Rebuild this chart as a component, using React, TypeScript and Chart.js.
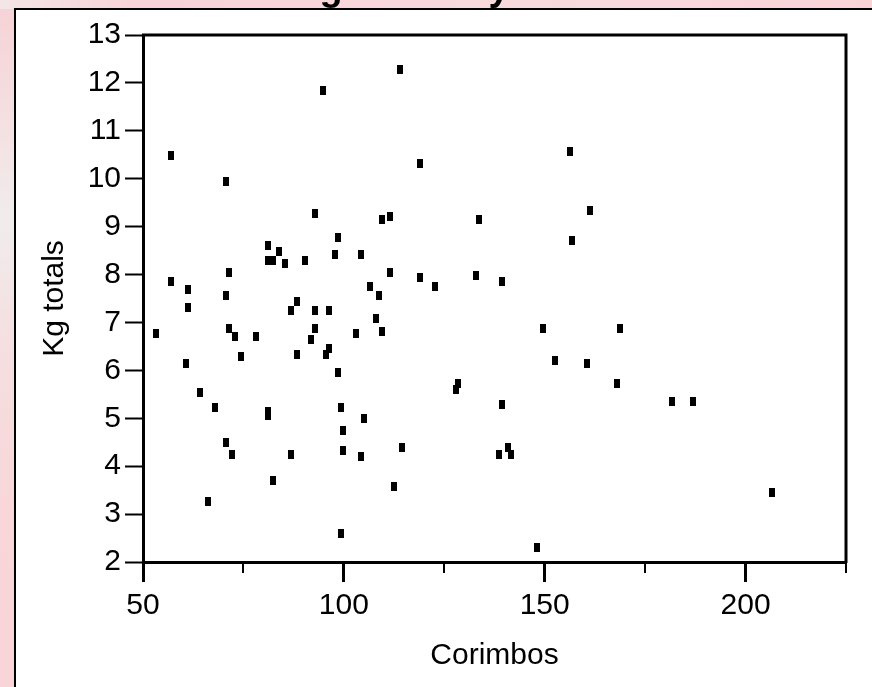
import React, { useEffect, useRef } from "react";
import { Chart, registerables } from "chart.js";

Chart.register(...registerables);

const corimbos: number[] = [
  94.8, 56.9, 70.7, 92.8, 98.5, 81.0, 83.9, 81.0, 82.4, 85.3,
  90.4, 97.8, 104.3, 106.5, 71.5, 56.9, 61.3, 70.7, 61.3, 88.4,
  86.8, 92.8, 96.3, 53.3, 71.5, 73.0, 78.1, 92.8, 91.9, 102.9,
  60.6, 74.4, 88.4, 96.3, 95.5, 98.5, 64.2, 67.9, 81.0, 81.0,
  99.2, 105.1, 99.9, 70.7, 72.2, 86.8, 99.9, 104.3, 82.4, 66.3,
  99.2, 113.9, 156.2, 119.0, 161.3, 109.5, 111.6, 133.6, 156.9, 111.6,
  119.0, 132.8, 139.4, 122.7, 108.7, 108.0, 109.5, 149.6, 152.6, 160.5,
  128.5, 127.8, 139.4, 114.5, 140.9, 138.7, 141.7, 112.4, 148.2, 168.7,
  167.9, 181.7, 186.9, 206.7,
];

const kgTotals: number[] = [
  11.84, 10.49, 9.94, 9.28, 8.78, 8.6, 8.48, 8.3, 8.3, 8.23,
  8.3, 8.41, 8.41, 7.75, 8.05, 7.86, 7.68, 7.56, 7.31, 7.43,
  7.25, 7.25, 7.25, 6.76, 6.88, 6.7, 6.7, 6.88, 6.64, 6.76,
  6.15, 6.28, 6.33, 6.46, 6.33, 5.96, 5.54, 5.23, 5.15, 5.05,
  5.23, 4.99, 4.75, 4.5, 4.25, 4.25, 4.32, 4.2, 3.7, 3.27,
  2.6, 12.27, 10.56, 10.31, 9.33, 9.14, 9.21, 9.14, 8.72, 8.05,
  7.93, 7.98, 7.86, 7.75, 7.56, 7.08, 6.82, 6.88, 6.21, 6.15,
  5.72, 5.6, 5.29, 4.38, 4.38, 4.25, 4.25, 3.58, 2.3, 6.88,
  5.72, 5.36, 5.36, 3.46,
];

const xMin = 50;
const xMax = 225;
const xStep = 25;
const xMajorEvery = 50;
const yMin = 2;
const yMax = 13;
const yStep = 1;

const titleText = "Scatter Plot of Kg totals by Corimbos";
const xTitle = "Corimbos";
const yTitle = "Kg totals";

const FONT = "'Liberation Sans', Arial, Helvetica, sans-serif";
const FS = 30;

export default function App() {
  const canvasRef = useRef<HTMLCanvasElement | null>(null);

  useEffect(() => {
    const canvas = canvasRef.current;
    if (!canvas) return;

    const marker = document.createElement("canvas");
    marker.width = 6;
    marker.height = 9;
    const mctx = marker.getContext("2d");
    if (mctx) {
      mctx.fillStyle = "#000";
      mctx.fillRect(0, 0, 6, 9);
    }

    const points = corimbos.map((x, i) => ({ x, y: kgTotals[i] }));

    const framePlugin = {
      id: "frameAndMinor",
      afterDraw(chart: any) {
        const { ctx, chartArea } = chart;
        const xs = chart.scales.x;
        ctx.save();
        ctx.strokeStyle = "#000";
        ctx.lineWidth = 3;
        ctx.beginPath();
        ctx.moveTo(chartArea.left - 1, chartArea.top);
        ctx.lineTo(chartArea.right, chartArea.top);
        ctx.lineTo(chartArea.right, chartArea.bottom + 1);
        ctx.stroke();
        ctx.lineWidth = 2;
        for (let v = xMin; v <= xMax; v += xStep) {
          if (v % xMajorEvery === 0) continue;
          const px = Math.round(xs.getPixelForValue(v));
          ctx.beginPath();
          ctx.moveTo(px, chartArea.bottom);
          ctx.lineTo(px, chartArea.bottom + 11);
          ctx.stroke();
        }
        ctx.restore();
      },
    };

    const chart = new Chart(canvas, {
      type: "scatter",
      data: {
        datasets: [
          {
            data: points,
            pointStyle: marker as any,
            pointRadius: 5,
            pointHoverRadius: 5,
            backgroundColor: "#000",
            borderColor: "#000",
          },
        ],
      },
      options: {
        animation: false,
        responsive: false,
        devicePixelRatio: 1,
        layout: { padding: { left: 0, top: 35, right: 26, bottom: 0 } },
        plugins: {
          legend: { display: false },
          tooltip: { enabled: false },
          title: { display: false },
        },
        scales: {
          x: {
            type: "linear",
            position: "bottom",
            min: xMin,
            max: xMax,
            ticks: {
              stepSize: xStep,
              autoSkip: false,
              maxRotation: 0,
              color: "#000",
              padding: 6,
              font: { family: FONT, size: FS },
              callback: (v: any) => (Number(v) % xMajorEvery === 0 ? String(v) : ""),
            },
            grid: {
              drawOnChartArea: false,
              drawTicks: true,
              tickLength: 20,
              tickWidth: 3,
              tickColor: (c: any) =>
                c.tick && Number(c.tick.value) % xMajorEvery === 0 ? "#000" : "rgba(0,0,0,0)",
            },
            border: { display: true, color: "#000", width: 3 },
            title: {
              display: true,
              text: xTitle,
              color: "#000",
              font: { family: FONT, size: FS },
              padding: { top: 0, bottom: 13 },
            },
            afterFit: (s: any) => {
              s.height = 125;
            },
          },
          y: {
            type: "linear",
            min: yMin,
            max: yMax,
            ticks: {
              stepSize: yStep,
              autoSkip: false,
              color: "#000",
              padding: 4,
              font: { family: FONT, size: FS },
            },
            grid: {
              drawOnChartArea: false,
              drawTicks: true,
              tickLength: 18,
              tickWidth: 2,
              tickColor: "#000",
            },
            border: { display: true, color: "#000", width: 3 },
            title: {
              display: true,
              text: yTitle,
              color: "#000",
              font: { family: FONT, size: FS },
              padding: { top: 37, bottom: 0 },
            },
            afterFit: (s: any) => {
              s.width = 143;
            },
          },
        },
      },
      plugins: [framePlugin],
    } as any);

    return () => {
      chart.destroy();
    };
  }, []);

  return (
    <div
      style={{
        position: "fixed",
        left: 0,
        top: 0,
        width: 872,
        height: 687,
        overflow: "hidden",
        background:
          "linear-gradient(to bottom, #f6d2d6 0%, #f4e2e3 20%, #f1ecec 32%, #f5dfe0 50%, #f8d6d9 75%, #f9d4d8 100%)",
      }}
    >
      <div
        style={{
          position: "absolute",
          left: 0,
          top: 0,
          width: 872,
          height: 9,
          background:
            "linear-gradient(to right, #f4e6e7 0%, #f7d3d7 15%, #f9d6d9 40%, #f7dadd 60%, #fad3d7 100%)",
        }}
      />
      <div
        style={{
          position: "absolute",
          left: 14,
          top: 8,
          width: 900,
          height: 700,
          background: "#fff",
          borderLeft: "2px solid #000",
          borderTop: "2px solid #000",
        }}
      />
      <div
        style={{
          position: "absolute",
          left: 24,
          top: -32,
          fontFamily: FONT,
          fontWeight: "bold",
          fontSize: 38,
          lineHeight: "38px",
          whiteSpace: "nowrap",
          color: "#000",
          zIndex: 2,
        }}
      >
        {titleText}
      </div>
      <canvas
        ref={canvasRef}
        width={872}
        height={687}
        style={{ position: "absolute", left: 0, top: 0, width: 872, height: 687, zIndex: 1 }}
      />
    </div>
  );
}
